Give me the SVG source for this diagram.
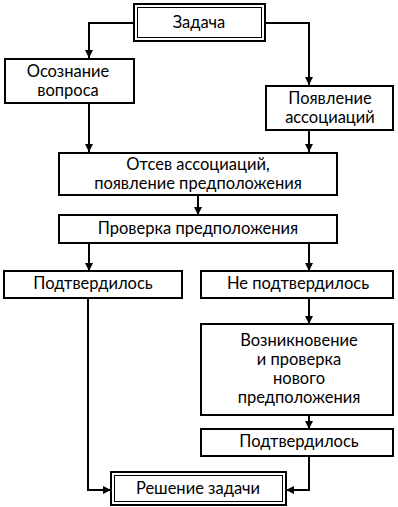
<svg xmlns="http://www.w3.org/2000/svg" width="398" height="507" viewBox="0 0 398 507">
<style>
.b{fill:#fff;stroke:#000;stroke-width:2}
.i{fill:none;stroke:#000;stroke-width:1}
.c{fill:none;stroke:#000;stroke-width:2}
text{font-family:Lato,"Open Sans","Noto Sans",sans-serif;font-size:16.5px;text-anchor:middle;fill:#000}
</style>
<defs>
<marker id="a" viewBox="0 0 8 8" refX="8" refY="4" markerWidth="8" markerHeight="8" markerUnits="userSpaceOnUse" orient="auto">
<path d="M0,0L8,4L0,8z" fill="#000"/>
</marker>
</defs>
<rect width="398" height="507" fill="#fff"/>
<g id="connectors">
<path class="c" d="M134,23H89V58" marker-end="url(#a)"/>
<path class="c" d="M265,23H309V85" marker-end="url(#a)"/>
<path class="c" d="M89,103V152" marker-end="url(#a)"/>
<path class="c" d="M309,130V152" marker-end="url(#a)"/>
<path class="c" d="M198,195V215" marker-end="url(#a)"/>
<path class="c" d="M89,243V271" marker-end="url(#a)"/>
<path class="c" d="M309,243V271" marker-end="url(#a)"/>
<path class="c" d="M88,298V490H111" marker-end="url(#a)"/>
<path class="c" d="M309,298V324" marker-end="url(#a)"/>
<path class="c" d="M309,415V429" marker-end="url(#a)"/>
<path class="c" d="M309,456V490H286" marker-end="url(#a)"/>
</g>
<g id="n1">
<rect class="b" x="134" y="4" width="131" height="37"/>
<rect class="i" x="137.5" y="7.5" width="124" height="30"/>
<text x="199" y="28">Задача</text>
</g>
<g id="n2">
<rect class="b" x="5" y="59" width="129" height="44"/>
<text x="68" y="77">Осознание</text>
<text x="68" y="96">вопроса</text>
</g>
<g id="n3">
<rect class="b" x="266" y="86" width="127" height="44"/>
<text x="330" y="104">Появление</text>
<text x="330" y="123">ассоциаций</text>
</g>
<g id="n4">
<rect class="b" x="59" y="153" width="278" height="42"/>
<text x="198" y="170">Отсев ассоциаций,</text>
<text x="198" y="189">появление предположения</text>
</g>
<g id="n5">
<rect class="b" x="59" y="215" width="278" height="28"/>
<text x="198" y="234">Проверка предположения</text>
</g>
<g id="n6">
<rect class="b" x="4" y="271" width="178" height="27"/>
<text x="93" y="289">Подтвердилось</text>
</g>
<g id="n7">
<rect class="b" x="201" y="271" width="192" height="27"/>
<text x="298" y="289">Не подтвердилось</text>
</g>
<g id="n8">
<rect class="b" x="201" y="324" width="192" height="91"/>
<text x="299" y="346">Возникновение</text>
<text x="299" y="365">и проверка</text>
<text x="299" y="384">нового</text>
<text x="299" y="403">предположения</text>
</g>
<g id="n9">
<rect class="b" x="201" y="429" width="192" height="27"/>
<text x="299" y="447">Подтвердилось</text>
</g>
<g id="n10">
<rect class="b" x="111" y="472" width="175" height="33"/>
<rect class="i" x="114.5" y="475.5" width="168" height="26"/>
<text x="198" y="494">Решение задачи</text>
</g>
</svg>
